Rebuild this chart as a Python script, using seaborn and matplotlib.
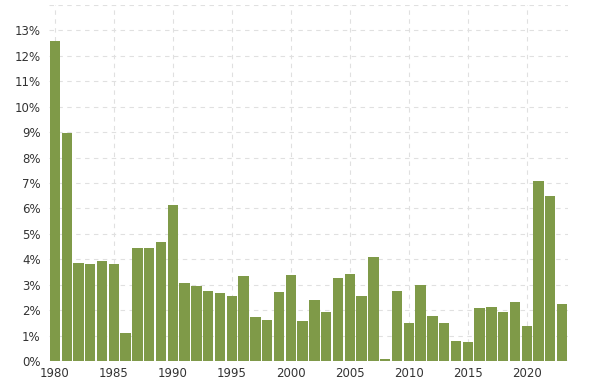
import matplotlib
matplotlib.use("Agg")
import matplotlib.pyplot as plt
import seaborn as sns
import pandas as pd

years = list(range(1980, 2024))
rates = [12.57, 8.96, 3.87, 3.80, 3.95, 3.83, 1.10, 4.45, 4.45, 4.69,
         6.15, 3.08, 2.93, 2.77, 2.68, 2.55, 3.35, 1.72, 1.61, 2.72,
         3.40, 1.56, 2.39, 1.92, 3.27, 3.43, 2.55, 4.09, 0.08, 2.74,
         1.51, 2.98, 1.76, 1.51, 0.79, 0.74, 2.10, 2.13, 1.94, 2.31,
         1.38, 7.06, 6.48, 2.23]
x_tick_years = [1980, 1985, 1990, 1995, 2000, 2005, 2010, 2015, 2020]
y_ticks = list(range(0, 15))

df = pd.DataFrame({"year": years, "rate": rates})

sns.set_style("white")
plt.rcParams['font.family'] = ['DejaVu Sans']

fig = plt.figure(figsize=(6.02, 3.80), dpi=100)
ax = fig.add_axes([49/602, 1 - 361/380, (568-49)/602, (361-5)/380])

sns.barplot(data=df, x="year", y="rate", color="#7f9a48", saturation=1,
            width=0.88, linewidth=0, ax=ax, zorder=3)

ax.set_xlim(-0.5, len(years) - 0.5)
ax.set_ylim(0, 14)
ax.set_yticks(y_ticks)
ax.set_yticklabels([f"{v}%" if v < 14 else "" for v in y_ticks])
pos = [years.index(y) for y in x_tick_years]
ax.set_xticks(pos)
ax.set_xticklabels([str(y) for y in x_tick_years])

ax.grid(True, color="#e0e0e0", linestyle=(0, (4, 4)), linewidth=0.8, zorder=0)
ax.set_axisbelow(True)
for s in ax.spines.values():
    s.set_visible(False)
ax.axhline(0, color="#999999", linestyle=(0, (4, 4)), linewidth=0.8, zorder=4)

ax.tick_params(axis="both", length=0, labelsize=8.5, colors="#333333")
ax.tick_params(axis="y", pad=6)
ax.tick_params(axis="x", pad=4)
ax.set_xlabel("")
ax.set_ylabel("")

fig.savefig("out.png", dpi=100)
